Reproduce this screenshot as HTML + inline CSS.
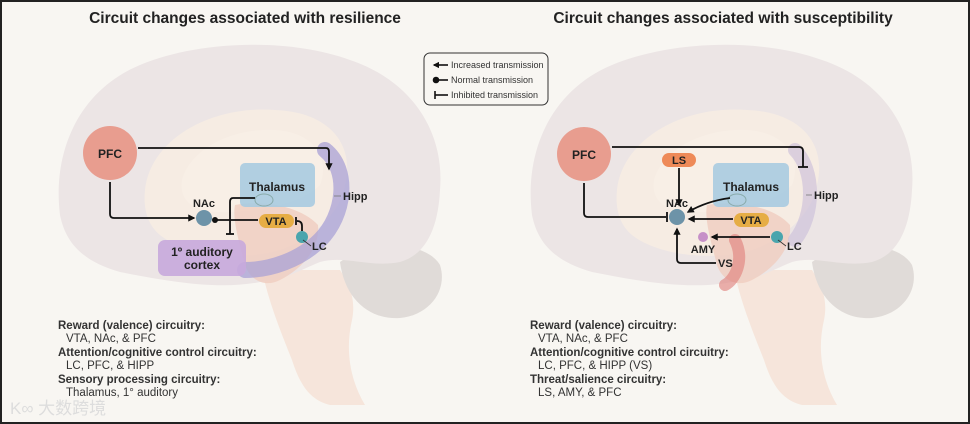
<!DOCTYPE html>
<html><head><meta charset="utf-8"><style>
html,body{margin:0;padding:0;background:#fff}
svg{display:block}
text{font-family:"Liberation Sans",Arial,sans-serif}
</style></head><body>
<svg width="970" height="424" viewBox="0 0 970 424" xmlns="http://www.w3.org/2000/svg">
<defs>
<marker id="ar" viewBox="0 0 10 10" refX="8" refY="5" markerWidth="4" markerHeight="4" orient="auto-start-reverse"><path d="M0,0 L10,5 L0,10 z" fill="#111"/></marker>
<g id="brain">
  <path d="M262,270 C268,300 280,330 292,360 C300,385 310,400 330,405 L365,405 C350,380 345,350 352,320 C356,300 350,285 340,270 Z" fill="#f5e3d8" opacity="0.9"/>
  <path d="M340,262 C370,240 425,240 440,265 C448,290 430,315 400,318 C370,320 345,300 340,262 Z" fill="#e0dbd8"/>
  <path d="M60,215 C52,150 80,90 140,65 C200,40 290,38 350,60 C410,80 445,130 440,190 C438,230 425,255 400,262 C370,268 345,255 320,262 C300,270 285,280 260,282 C220,290 170,282 120,272 C85,262 66,245 60,215 Z" fill="#ece5e5"/>
  <path d="M145,190 C150,140 210,105 275,110 C330,112 355,145 345,185 C340,215 310,240 280,250 C240,262 185,255 160,235 C148,225 143,210 145,190 Z" fill="#f6ece3"/>
  <path d="M182,180 C190,150 230,128 275,130 C315,132 330,160 320,185 C300,205 260,210 230,212 C200,214 178,205 182,180 Z" fill="#f8efe6"/>
  <path d="M235,205 C260,200 300,205 318,225 C320,250 300,270 280,280 C265,288 250,280 245,265 C240,245 232,220 235,205 Z" fill="#f0cdbf" opacity="0.8"/>
</g>
</defs>
<rect x="0" y="0" width="970" height="424" fill="#f8f6f2"/>
<rect x="1" y="1" width="968" height="422" fill="none" stroke="#222" stroke-width="2"/>

<text x="245" y="23" font-size="15.5" font-weight="bold" text-anchor="middle" fill="#222">Circuit changes associated with resilience</text>
<text x="723" y="23" font-size="15.5" font-weight="bold" text-anchor="middle" fill="#222">Circuit changes associated with susceptibility</text>

<rect x="424" y="53" width="124" height="52" rx="6" fill="#f8f6f2" stroke="#333" stroke-width="1"/>
<g stroke="#111" stroke-width="1.6">
<line x1="448" y1="65" x2="434" y2="65" marker-end="url(#ar)"/>
<line x1="435" y1="80" x2="448" y2="80"/><circle cx="436" cy="80" r="2.5" fill="#111"/>
<line x1="435" y1="95" x2="448" y2="95"/><line x1="435" y1="91" x2="435" y2="99"/>
</g>
<g font-size="9" fill="#333">
<text x="451" y="68">Increased transmission</text>
<text x="451" y="83">Normal transmission</text>
<text x="451" y="98">Inhibited transmission</text>
</g>

<use href="#brain"/>
<path d="M325,150 C350,170 345,215 320,240 C300,260 270,270 245,270" fill="none" stroke="#a9a2d6" stroke-width="16" stroke-linecap="round" opacity="0.75"/>
<rect x="240" y="163" width="75" height="44" rx="5" fill="#a9cbe0" opacity="0.9"/>
<ellipse cx="264" cy="200" rx="9" ry="6" fill="none" stroke="#8aa" stroke-width="1"/>
<rect x="158" y="240" width="88" height="36" rx="7" fill="#c8a8dc" opacity="0.9"/>
<circle cx="110" cy="153" r="27" fill="#e89585" opacity="0.9"/>
<text x="110" y="158" font-size="12" font-weight="bold" text-anchor="middle" fill="#222">PFC</text>
<text x="277" y="191" font-size="12" font-weight="bold" text-anchor="middle" fill="#222">Thalamus</text>
<text x="202" y="256" font-size="12" font-weight="bold" text-anchor="middle" fill="#222">1º auditory</text>
<text x="202" y="269" font-size="12" font-weight="bold" text-anchor="middle" fill="#222">cortex</text>
<circle cx="204" cy="218" r="8" fill="#6d93a8"/>
<text x="204" y="207" font-size="11" font-weight="bold" text-anchor="middle" fill="#222">NAc</text>
<rect x="259" y="214" width="35" height="14" rx="7" fill="#e6ad45"/>
<text x="276" y="225" font-size="11" font-weight="bold" text-anchor="middle" fill="#222">VTA</text>
<circle cx="302" cy="237" r="6" fill="#4aa5ad"/>
<text x="312" y="250" font-size="11" font-weight="bold" fill="#222">LC</text>
<line x1="303" y1="240" x2="311" y2="246" stroke="#333" stroke-width="0.8"/>
<text x="343" y="200" font-size="11" font-weight="bold" fill="#222">Hipp</text>
<line x1="334" y1="196" x2="341" y2="196" stroke="#777" stroke-width="0.8"/>
<g stroke="#111" stroke-width="1.8" fill="none">
<path d="M138,148 L326,148 Q329,148 329,152 L329,169" marker-end="url(#ar)"/>
<path d="M110,182 L110,214 Q110,218 114,218 L194,218" marker-end="url(#ar)"/>
<line x1="216" y1="220" x2="258" y2="220"/>
<path d="M255,198 L233,198 Q230,198 230,202 L230,234"/><line x1="226" y1="234" x2="234" y2="234"/>
<path d="M302,231 L302,226 Q302,221 297,221"/><line x1="296" y1="217" x2="296" y2="225"/>
</g>
<circle cx="215" cy="220" r="3" fill="#111"/>
<g font-size="11.5" fill="#333">
<text x="58" y="329" font-weight="bold">Reward (valence) circuitry:</text>
<text x="66" y="342">VTA, NAc, &amp; PFC</text>
<text x="58" y="356" font-weight="bold">Attention/cognitive control circuitry:</text>
<text x="66" y="369">LC, PFC, &amp; HIPP</text>
<text x="58" y="383" font-weight="bold">Sensory processing circuitry:</text>
<text x="66" y="396">Thalamus, 1° auditory</text>
</g>
<text x="10" y="414" font-size="17" fill="#ddd" font-family="'Liberation Sans','Noto Sans CJK SC',sans-serif">K∞ 大数跨境</text>

<g transform="translate(472,0)"><use href="#brain"/></g>
<path d="M795,150 C815,170 815,215 795,240" fill="none" stroke="#c9bcd8" stroke-width="14" stroke-linecap="round" opacity="0.6"/>
<path d="M735,240 C745,260 735,280 725,285" fill="none" stroke="#e07d78" stroke-width="12" stroke-linecap="round" opacity="0.6"/>
<rect x="713" y="163" width="76" height="44" rx="5" fill="#a9cbe0" opacity="0.9"/>
<ellipse cx="737" cy="200" rx="9" ry="6" fill="none" stroke="#8aa" stroke-width="1"/>
<circle cx="584" cy="154" r="27" fill="#e89585" opacity="0.9"/>
<text x="584" y="159" font-size="12" font-weight="bold" text-anchor="middle" fill="#222">PFC</text>
<rect x="662" y="153" width="34" height="14" rx="7" fill="#ee8a58"/>
<text x="679" y="164" font-size="11" font-weight="bold" text-anchor="middle" fill="#222">LS</text>
<text x="751" y="191" font-size="12" font-weight="bold" text-anchor="middle" fill="#222">Thalamus</text>
<circle cx="677" cy="217" r="8" fill="#6d93a8"/>
<text x="677" y="207" font-size="11" font-weight="bold" text-anchor="middle" fill="#222">NAc</text>
<rect x="734" y="213" width="35" height="14" rx="7" fill="#e6ad45"/>
<text x="751" y="224" font-size="11" font-weight="bold" text-anchor="middle" fill="#222">VTA</text>
<circle cx="703" cy="237" r="5" fill="#c690c8"/>
<text x="703" y="253" font-size="11" font-weight="bold" text-anchor="middle" fill="#222">AMY</text>
<circle cx="777" cy="237" r="6" fill="#4aa5ad"/>
<text x="787" y="250" font-size="11" font-weight="bold" fill="#222">LC</text>
<line x1="778" y1="240" x2="786" y2="246" stroke="#333" stroke-width="0.8"/>
<text x="718" y="267" font-size="11" font-weight="bold" fill="#222">VS</text>
<text x="814" y="199" font-size="11" font-weight="bold" fill="#222">Hipp</text>
<line x1="806" y1="195" x2="812" y2="195" stroke="#777" stroke-width="0.8"/>
<g stroke="#111" stroke-width="1.8" fill="none">
<path d="M612,147 L799,147 Q803,147 803,151 L803,167"/><line x1="798" y1="167" x2="808" y2="167"/>
<path d="M584,183 L584,213 Q584,217 588,217 L666,217"/><line x1="667" y1="212" x2="667" y2="222"/>
<line x1="679" y1="168" x2="679" y2="205" marker-end="url(#ar)"/>
<path d="M730,198 C715,200 700,205 688,212" marker-end="url(#ar)"/>
<line x1="733" y1="219" x2="689" y2="219" marker-end="url(#ar)"/>
<line x1="770" y1="237" x2="712" y2="237" marker-end="url(#ar)"/>
<path d="M716,263 L681,263 Q677,263 677,259 L677,229" marker-end="url(#ar)"/>
</g>
<g font-size="11.5" fill="#333">
<text x="530" y="329" font-weight="bold">Reward (valence) circuitry:</text>
<text x="538" y="342">VTA, NAc, &amp; PFC</text>
<text x="530" y="356" font-weight="bold">Attention/cognitive control circuitry:</text>
<text x="538" y="369">LC, PFC, &amp; HIPP (VS)</text>
<text x="530" y="383" font-weight="bold">Threat/salience circuitry:</text>
<text x="538" y="396">LS, AMY, &amp; PFC</text>
</g>
</svg>
</body></html>
